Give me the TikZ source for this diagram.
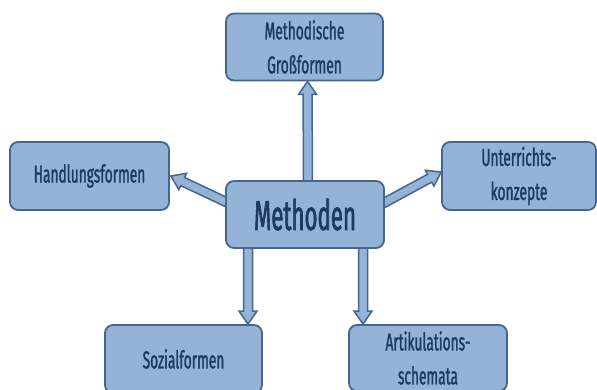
\documentclass[tikz,border=0pt]{standalone}
\usepackage{fontspec}
\setmainfont{Fira Sans}[FakeStretch=0.56, FakeBold=1.2]
\newfontfamily\bigfont{Fira Sans}[FakeStretch=0.53, FakeBold=1.4]
\usetikzlibrary{calc}
\definecolor{boxfill}{HTML}{95B3D7}
\definecolor{boxdraw}{HTML}{44668F}
\definecolor{txt}{HTML}{1E3A5C}
\pgfdeclarelayer{bg}
\pgfsetlayers{bg,main}
\tikzset{
  box/.style={draw=boxdraw, line width=1.8pt, fill=boxfill, rounded corners=8pt,
    text=txt, align=center, inner sep=0pt, font=\fontsize{24.5}{34}\selectfont},
  arrowshape/.style={draw=boxdraw, line width=1.5pt, fill=boxfill, line join=miter}
}
\newcommand{\fatarrow}[2]{%
  \coordinate (faC) at ($(#2)!13pt!(#1)$);
  \draw[arrowshape] ($(#1)!4.5pt!90:(#2)$) -- ($(faC)!4.5pt!90:(#2)$) -- ($(faC)!9pt!90:(#2)$)
    -- (#2) -- ($(faC)!9pt!-90:(#2)$) -- ($(faC)!4.5pt!-90:(#2)$) -- ($(#1)!4.5pt!-90:(#2)$) -- cycle;}
\begin{document}
\begin{tikzpicture}[x=1pt,y=-1pt]
\useasboundingbox (0,0) rectangle (597,390);
\clip (0,0) rectangle (597,390);
\node[box, minimum width=157pt, minimum height=67pt] (top) at (304.5,47) {Methodische\\Großformen};
\node[box, minimum width=158pt, minimum height=67pt, font=\bigfont\fontsize{42}{44}\selectfont] (m) at (305,214.5) {Methoden};
\node[box, minimum width=159pt, minimum height=68pt] (hf) at (89.5,176) {Handlungsformen};
\node[box, minimum width=154pt, minimum height=68pt] (uk) at (519,176) {Unterrichts-\\konzepte};
\node[box, minimum width=157pt, minimum height=68pt] (soz) at (183.5,359) {Sozialformen};
\node[box, minimum width=158pt, minimum height=66pt] (art) at (428,358) {Artikulations-\\schemata};
\coordinate (a1s) at ($(m.north)+(3,2)$);
\coordinate (a1e) at ($(top.south)+(3,0)$);
\coordinate (a2s) at ($(m.west)+(2,-12)$);
\coordinate (a2e) at ($(hf.east)+(1,0)$);
\coordinate (a3s) at ($(m.east)+(-2,-11)$);
\coordinate (a3e) at ($(uk.west)+(0,-4)$);
\coordinate (x1) at (248,0);
\coordinate (x2) at (363,0);
\coordinate (a4s) at ($(m.south -| x1)+(0,-2)$);
\coordinate (a4e) at (soz.north -| x1);
\coordinate (a5s) at ($(m.south -| x2)+(0,-2)$);
\coordinate (a5e) at (art.north -| x2);
\begin{pgfonlayer}{bg}
\fatarrow{a1s}{a1e}
\fatarrow{a2s}{a2e}
\fatarrow{a3s}{a3e}
\fatarrow{a4s}{a4e}
\fatarrow{a5s}{a5e}
\end{pgfonlayer}
\end{tikzpicture}
\end{document}
